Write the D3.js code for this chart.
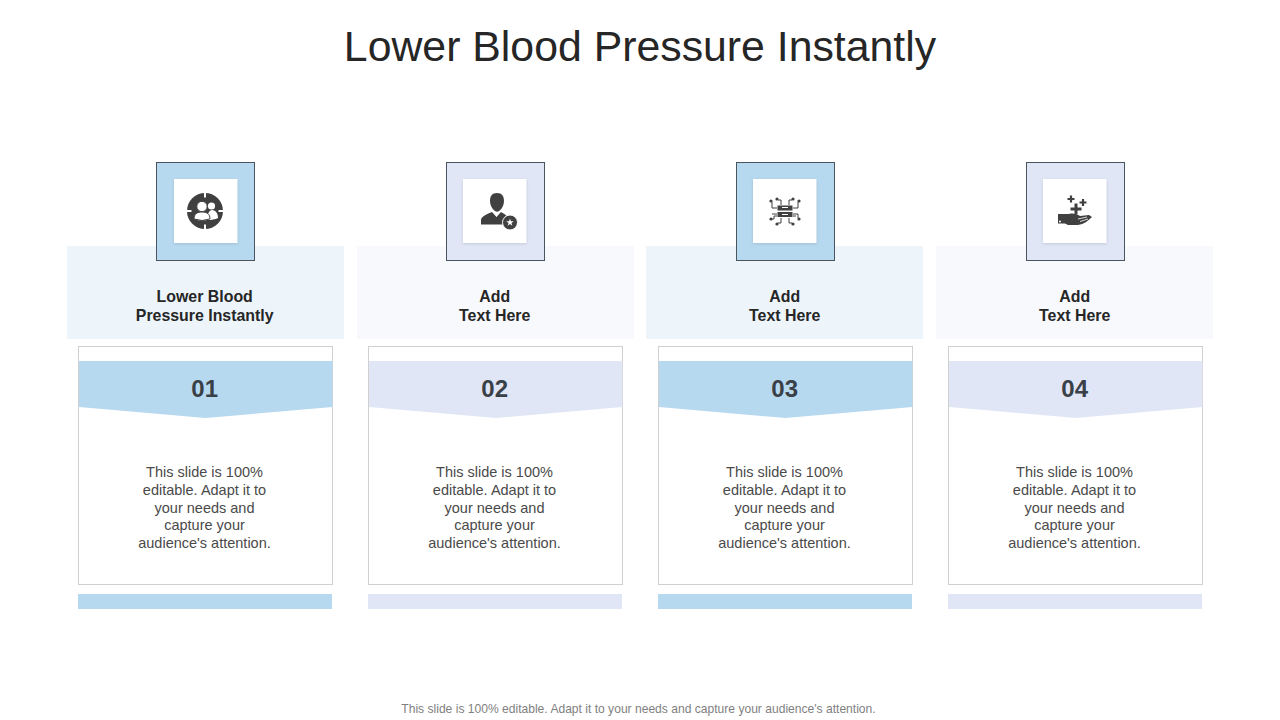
<!DOCTYPE html>
<html lang="en">
<head>
<meta charset="utf-8">
<title>Lower Blood Pressure Instantly</title>
<style>
  html, body { margin: 0; background: #fff; }
  svg { display: block; font-family: "Liberation Sans", Arial, sans-serif; }
</style>
</head>
<body>
<svg width="1280" height="720"></svg>
<script src="https://cdn.jsdelivr.net/npm/d3@7"></script>
<script>
const chartTitle = "Lower Blood Pressure Instantly"
const footer = "This slide is 100% editable. Adapt it to your needs and capture your audience's attention."
const numbers = ["01", "02", "03", "04"]
const headings = [
  ["Lower Blood", "Pressure Instantly"],
  ["Add", "Text Here"],
  ["Add", "Text Here"],
  ["Add", "Text Here"]
]
const bodyLines = ["This slide is 100%", "editable. Adapt it to", "your needs and", "capture your", "audience's attention."]
const iconNames = ["people", "manager", "circuit", "hand"]

const svg = d3.select("svg")

const x = d3.scaleLinear().domain([0, 3]).range([205, 1075])
const fill = d3.scaleOrdinal([0, 1], ["#b7d9f0", "#e0e6f6"])
const pale = d3.scaleOrdinal([0, 1], ["#edf5fb", "#f7f9fd"])
const dark = "#404040"

const drawIcon = {
  people(g) {
    g.append("circle").attr("r", 18)
    // four notches on the ring
    g.append("path").attr("d", "M-1,-18.5h2v5h-2ZM-1,13.5h2v5h-2ZM-18.5,-1h5v2h-5ZM13.5,-1h5v2h-5Z").style("fill", "#fff")
    g.append("circle").attr("cx", 6.5).attr("cy", -5).attr("r", 3.6).style("fill", "#fff")
    g.append("path").attr("d", "M2,9C2,2 5,-1 7,-1C11,-1 13,3 13,7Q9,9 2,9Z").style("fill", "#fff")
    g.append("circle").attr("cx", -3).attr("cy", -4.5).attr("r", 5.2).style("fill", "#fff").style("stroke", dark)
    g.append("path").attr("d", "M-11,8C-11,3 -8,1 -3,1C2,1 5,3 5,8Q-3,11 -11,8Z").style("fill", "#fff").style("stroke", dark)
  },
  manager(g) {
    g.append("path").attr("d", "M2,-18C-3,-18 -5,-15 -5,-10C-5,-6 -3,-2 0,0C1.5,1 3,1 4,0C7,-2 9,-6 9,-10C9,-15 7,-18 2,-18Z")
    g.append("path").attr("d", "M-14,13.5V9C-14,6 -10,4 -3,1L1.5,6L6,1C9,2.5 11,4 12,6C9,7.5 8,10 8,13.5Z")
    g.append("path").attr("d", "M0,2.5L1.5,6L3,2.5L1.5,1.5Z").style("fill", "#fff")
    g.append("circle").attr("cx", 15).attr("cy", 11.5).attr("r", 7.5).style("stroke", "#fff").style("stroke-width", 1)
    g.append("path").attr("transform", "translate(15,11.5)").style("fill", "#fff")
      .attr("d", d3.symbol(d3.symbolStar, 18))
  },
  circuit(g) {
    g.append("rect").attr("x", -7.5).attr("y", -5.5).attr("width", 15).attr("height", 5)
    g.append("rect").attr("x", -7.5).attr("y", 1).attr("width", 15).attr("height", 5)
    g.append("path").attr("d", "M-3,-3.5H3M-3,3.5H3").style("stroke", "#fff").style("fill", "none")
    const wires = ["M-4,-6V-11H-7", "M4,-6V-11H7", "M-8,-3H-13V-9", "M8,-3H13V-9", "M-8,3H-13", "M8,3H13V7", "M-4,7V12H-7", "M4,7V12H7", "M-8,5H-11V8H-14", "M8,5H11"]
    g.selectAll("path.wire").data(wires).join("path")
      .attr("class", "wire")
      .attr("d", d => d)
      .style("fill", "none").style("stroke", dark).style("stroke-width", 1)
    const ends = [[-8, -12], [8, -12], [-14, -10], [14, -10], [-14, 8], [14, 8], [-8, 13], [8, 13]]
    g.selectAll("circle").data(ends).join("circle")
      .attr("cx", d => d[0]).attr("cy", d => d[1]).attr("r", 1.6)
  },
  hand(g) {
    const plus = (cx, cy, s, w) => `M${cx-s},${cy-w}H${cx-w}V${cy-s}H${cx+w}V${cy-w}H${cx+s}V${cy+w}H${cx+w}V${cy+s}H${cx-w}V${cy+w}H${cx-s}Z`
    g.append("path").attr("d", plus(-4, -12, 3.5, 1.1))
    g.append("path").attr("d", plus(8, -8.5, 3.5, 1.1))
    g.append("path").attr("d", plus(1, -2, 5.5, 1.5))
    g.append("path").attr("d", "M-17,3H-6C-2,2 2,3 5,5L14,4L17,6C13,10 9,13 3,14H-7L-10,12.5H-17Z")
    g.append("path").attr("d", "M3,8L12,6M5,10.5L13,8").style("stroke", "#fff").style("stroke-width", 0.8)
    g.append("circle").attr("cx", -15).attr("cy", 10.5).attr("r", 1).style("fill", "#fff")
  }
}

svg.append("text")
  .attr("x", 640).attr("y", 61)
  .attr("text-anchor", "middle")
  .style("font-size", "42.8px")
  .style("fill", "#262626")
  .text(chartTitle)

svg.append("text")
  .attr("x", 638.5).attr("y", 713)
  .attr("text-anchor", "middle")
  .style("font-size", "12.08px")
  .style("fill", "#7f7f7f")
  .text(footer)

const cols = svg.selectAll("g.col")
  .data(numbers)
  .join("g")
    .attr("class", "col")
    .attr("transform", (d, i) => `translate(${x(i)},0)`)

// pale header band
cols.append("rect")
  .attr("x", (d, i) => i < 2 ? -138 : -139).attr("y", 246)
  .attr("width", 277).attr("height", 93)
  .style("fill", (d, i) => pale(i % 2))

// heading
cols.each(function(d, i) {
  d3.select(this).selectAll("text.head")
    .data(headings[i])
    .join("text")
      .attr("class", "head")
      .attr("x", -0.3)
      .attr("y", (t, j) => 302 + j * 19)
      .attr("text-anchor", "middle")
      .style("font-size", "15.9px")
      .style("font-weight", 700)
      .style("fill", "#262626")
      .text(t => t)
})

// card
cols.append("rect")
  .attr("x", -126.5).attr("y", 346.5)
  .attr("width", 254).attr("height", 238)
  .style("fill", "#fff")
  .style("stroke", "#d0d0d0")

// ribbon
cols.append("path")
  .attr("d", "M-126,361H127.5V407L0.5,418L-126,407Z")
  .style("fill", (d, i) => fill(i % 2))

cols.append("text")
  .attr("y", 397)
  .attr("x", -0.3)
  .attr("text-anchor", "middle")
  .style("font-size", "24px")
  .style("font-weight", 700)
  .style("fill", "#3a4047")
  .text(d => d)

cols.selectAll("text.body")
  .data(bodyLines)
  .join("text")
    .attr("class", "body")
    .attr("x", -0.5)
    .attr("y", (t, j) => 477 + j * 17.75)
    .attr("text-anchor", "middle")
    .style("font-size", "14.5px")
    .style("fill", "#4a4a4a")
    .text(t => t)

// bottom strip
cols.append("rect")
  .attr("x", -127).attr("y", 594)
  .attr("width", 254).attr("height", 15)
  .style("fill", (d, i) => fill(i % 2))

// icon tile
cols.append("rect")
  .attr("x", -48.5).attr("y", 162.5)
  .attr("width", 98).attr("height", 98)
  .style("fill", (d, i) => fill(i % 2))
  .style("stroke", "#4a5560")

cols.append("rect")
  .attr("x", (d, i) => i == 0 ? -31 : -32).attr("y", 179)
  .attr("width", 63.5).attr("height", 64)
  .style("fill", "#fff")
  .style("filter", "drop-shadow(0 1px 1.5px rgba(0,0,0,.12))")

const icons = cols.append("g")
  .attr("transform", "translate(0,211)")
  .style("fill", dark)

icons.each(function(d, i) { drawIcon[iconNames[i]](d3.select(this)) })
</script>
</body>
</html>
